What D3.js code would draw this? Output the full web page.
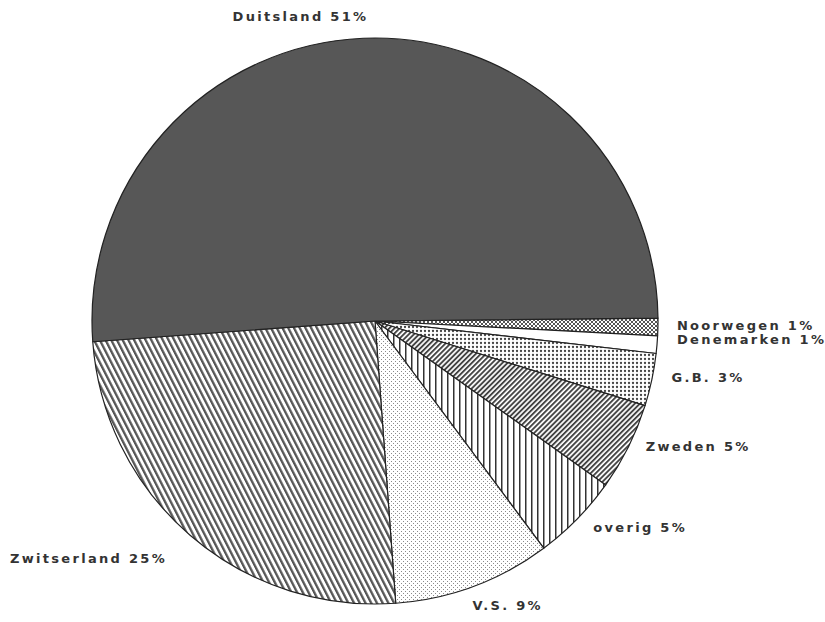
<!DOCTYPE html>
<head>
	<meta charset="utf-8">
	<script src="https://d3js.org/d3.v7.min.js"></script>
	<style>
		body { margin: 0; background: #fff; }
		text { font-family: "DejaVu Sans", sans-serif; font-weight: bold; font-size: 13px; letter-spacing: 2.3px; fill: #333; }
	</style>
</head>
<body>
	<svg id="chart" width="825" height="622"></svg>
	<script>

	// Data, clockwise from 3 o'clock
	var countries = ["Noorwegen", "Denemarken", "G.B.", "Zweden", "overig", "V.S.", "Zwitserland", "Duitsland"];
	var shares = [1, 1, 3, 5, 5, 9, 25, 51];
	var labels = ["Noorwegen 1%", "Denemarken 1%", "G.B. 3%", "Zweden 5%", "overig 5%", "V.S. 9%", "Zwitserland 25%", "Duitsland 51%"];

	// fill for each slice (pattern ids or colours)
	var fills = ["url(#p-noor)", "#fff", "url(#p-gb)", "url(#p-zwe)", "url(#p-ov)", "url(#p-vs)", "url(#p-zwi)", "#575757"];
	// label nudges [dx, dy] and anchors
	var nudge = [[2, -2], [3, -7], [3, -6], [2, -8], [4, -3], [-7, 3], [-12, 10], [-62, -5]];
	var anchors = ["start", "start", "start", "start", "start", "start", "end", "middle"];

	var svg = d3.select("#chart"),
	  cx = 375, cy = 321, radius = 283;

	var defs = svg.append("defs");

	// Noorwegen: dark checker
	var p = defs.append("pattern").attr("id", "p-noor").attr("patternUnits", "userSpaceOnUse")
		.attr("width", 4).attr("height", 4);
	p.append("rect").attr("width", 4).attr("height", 4).attr("fill", "#fff");
	p.append("rect").attr("x", 0).attr("y", 0).attr("width", 2).attr("height", 2).attr("fill", "#555");
	p.append("rect").attr("x", 2).attr("y", 2).attr("width", 2).attr("height", 2).attr("fill", "#555");

	// G.B.: dot grid
	p = defs.append("pattern").attr("id", "p-gb").attr("patternUnits", "userSpaceOnUse")
		.attr("width", 4).attr("height", 4);
	p.append("rect").attr("width", 4).attr("height", 4).attr("fill", "#fff");
	p.append("circle").attr("cx", 2).attr("cy", 2).attr("r", 1.15).attr("fill", "#444");

	// Zweden: dense "/" lines
	p = defs.append("pattern").attr("id", "p-zwe").attr("patternUnits", "userSpaceOnUse")
		.attr("width", 3.6).attr("height", 10).attr("patternTransform", "rotate(45)");
	p.append("rect").attr("width", 3.6).attr("height", 10).attr("fill", "#fff");
	p.append("rect").attr("width", 1.9).attr("height", 10).attr("fill", "#444");

	// overig: vertical lines
	p = defs.append("pattern").attr("id", "p-ov").attr("patternUnits", "userSpaceOnUse")
		.attr("width", 6).attr("height", 10);
	p.append("rect").attr("width", 6).attr("height", 10).attr("fill", "#fff");
	p.append("rect").attr("width", 1.5).attr("height", 10).attr("fill", "#333");

	// V.S.: light stipple
	p = defs.append("pattern").attr("id", "p-vs").attr("patternUnits", "userSpaceOnUse")
		.attr("width", 4).attr("height", 4);
	p.append("rect").attr("width", 4).attr("height", 4).attr("fill", "#fff");
	p.append("rect").attr("x", 0).attr("y", 0).attr("width", 1).attr("height", 1).attr("fill", "#8a8a8a");
	p.append("rect").attr("x", 2).attr("y", 2).attr("width", 1).attr("height", 1).attr("fill", "#8a8a8a");

	// Zwitserland: steep "\" lines
	p = defs.append("pattern").attr("id", "p-zwi").attr("patternUnits", "userSpaceOnUse")
		.attr("width", 5.1).attr("height", 10).attr("patternTransform", "rotate(-27)");
	p.append("rect").attr("width", 5.1).attr("height", 10).attr("fill", "#fff");
	p.append("rect").attr("width", 2.3).attr("height", 10).attr("fill", "#555");

	var startDeg = 89.4;
	var pie = d3.pie()
		.sort(null)
		.value(function(d) { return d; })
		.startAngle(startDeg * Math.PI / 180)
		.endAngle((startDeg + 360) * Math.PI / 180);

	var arc = d3.arc().innerRadius(0).outerRadius(radius);
	var labelArc = d3.arc().innerRadius(radius + 17).outerRadius(radius + 17);

	var arcs = pie(shares);

	var g = svg.append("g").attr("transform", "translate(" + cx + "," + cy + ")");

	g.selectAll("path")
		.data(arcs)
		.enter()
		.append("path")
		.attr("d", arc)
		.attr("fill", function(d, i) { return fills[i]; })
		.attr("stroke", "#222")
		.attr("stroke-width", 1.2)
		.attr("stroke-linejoin", "round");

	g.selectAll("text")
		.data(arcs)
		.enter()
		.append("text")
		.attr("x", function(d, i) { return labelArc.centroid(d)[0] + nudge[i][0]; })
		.attr("y", function(d, i) { return labelArc.centroid(d)[1] + nudge[i][1]; })
		.attr("dy", "0.35em")
		.attr("text-anchor", function(d, i) { return anchors[i]; })
		.text(function(d, i) { return labels[i]; });

	</script>
</body>
</html>
